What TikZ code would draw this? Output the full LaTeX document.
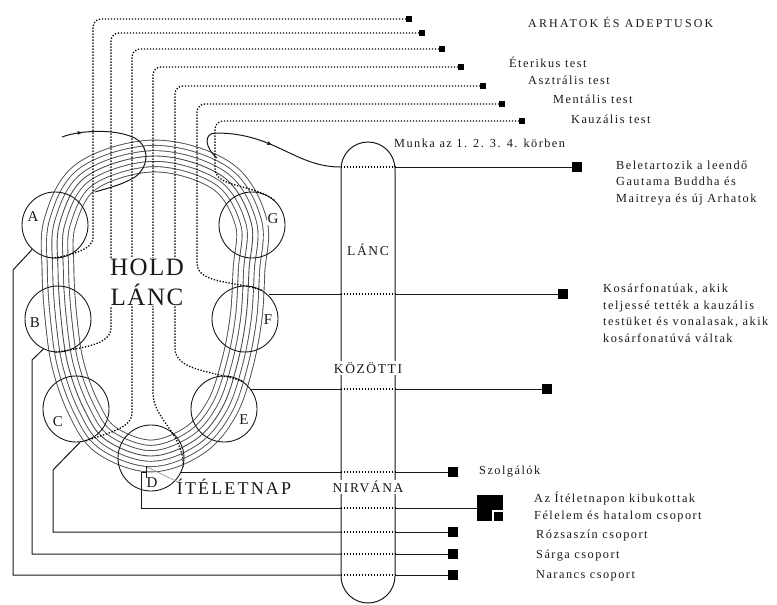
\documentclass[tikz,border=0pt]{standalone}
\usepackage{fontspec}
\setmainfont{Liberation Serif}
\newfontfamily\lsfont[LetterSpace=12]{Liberation Serif}
\newfontfamily\capsfont[LetterSpace=18]{Liberation Serif}
\newfontfamily\bigfont[LetterSpace=6]{Liberation Serif}
\usetikzlibrary{positioning, arrows.meta, calc, decorations.markings}

\tikzset{
  globe/.style={draw=black!90, circle, minimum size=66pt, inner sep=0pt, line width=0.9pt},
  lettr/.style={font=\fontsize{15}{15}\selectfont, fill=white, inner sep=0.5pt, text=black!90},
  lbl/.style={font=\lsfont\fontsize{12.3}{16.5}\selectfont, anchor=west, align=left, inner sep=1pt, text=black!90},
  head/.style={font=\capsfont\fontsize{12}{14}\selectfont, anchor=west, inner sep=1pt, text=black!90},
  pilltxt/.style={font=\lsfont\fontsize{13.5}{15}\selectfont, fill=white, inner sep=1.5pt, text=black!90},
  wire/.style={line width=1pt, black!90},
  dotline/.style={line width=1.3pt, dash pattern=on 1.3pt off 1.7pt, black},
  sqs/.style={fill=black, minimum size=5.5pt, inner sep=0pt},
  sqb/.style={fill=black, minimum size=10pt, inner sep=0pt},
  flow/.style={wire, postaction={decorate}, decoration={markings, mark=at position #1 with {\arrow{Latex[length=5pt,width=4pt]}}}},
  bandloop/.style={insert path={plot[smooth cycle, tension=0.6] coordinates {(155,-156) (222,-176) (251,-222) (249,-270) (246,-318) (237,-365) (222,-408) (195,-440) (151,-456) (106,-440) (84,-409) (68,-365) (61,-318) (58,-270) (60,-222) (87,-176)}}},
}

\begin{document}
\begin{tikzpicture}[x=1pt, y=1pt]
  \useasboundingbox (0,0) rectangle (777,-605);

  % the chain: seven parallel rings
  \foreach \k in {3,2,1} {
    \pgfmathsetmacro\wb{2*\k*5.3+0.9}
    \pgfmathsetmacro\ww{2*\k*5.3-0.9}
    \draw[line width=\wb pt, black!70, bandloop];
    \draw[line width=\ww pt, white, bandloop];
  }
  \draw[line width=0.9pt, black!70, bandloop];

  % globes
  \node[globe] (A) at (55,-225) {};
  \node[globe] (B) at (58,-319) {};
  \node[globe] (C) at (76,-409) {};
  \node[globe] (D) at (151,-458) {};
  \node[globe] (E) at (224,-409) {};
  \node[globe] (F) at (245,-319) {};
  \node[globe] (G) at (252,-225) {};

  % the pill between the chains
  \node[draw=black!90, line width=1pt, rounded corners=27pt, minimum width=54pt,
        minimum height=461pt, inner sep=0pt] (pill) at (368,-372.5) {};

  % dotted body lines
  \foreach \n/\x/\y in {1/409/19, 2/422/33, 3/442/49, 4/461/67, 5/483/86, 6/502/104, 7/522/121}
    \node[sqs] (s\n) at (\x,-\y) {};
  \foreach \n/\cx/\cy/\tgt/\ia in {1/93/230/A.-95/10, 2/111/320/B.-95/10, 3/132/405/C.-75/20,
      4/153/385/D.-15/90, 5/175/340/E.55/160, 6/197/255/F.58/160, 7/215/160/G.45/140}
    \draw[dotline, rounded corners=8pt] (s\n.west) -| (\cx,-\cy) to[out=-90, in=\ia] (\tgt);

  % squares on the right
  \node[sqb] (sqW) at (577,-167) {};
  \node[sqb] (sqF) at (563,-294) {};
  \node[sqb] (sqE) at (547,-389) {};
  \node[sqb] (sqD) at (453,-472) {};
  \node[fill=black, minimum size=26pt, inner sep=0pt] (sqJ) at (490,-508) {};
  \draw[white, line width=2pt] ([xshift=-10pt]sqJ.south east) |- ([yshift=10pt]sqJ.south east);
  \node[sqb] (sqC) at (453,-532) {};
  \node[sqb] (sqB) at (453,-554) {};
  \node[sqb] (sqA) at (453,-575) {};

  % work in the rounds
  \coordinate (mIn) at (62,-137);
  \coordinate (mEnd) at (95,-192);
  \coordinate (oS) at (217,-158);
  \draw[flow=0.13] (mIn) .. controls (80,-130) and (120,-128) .. (138,-140)
    .. controls (150,-150) and (148,-168) .. (135,-177)
    .. controls (122,-185) and (108,-188) .. (mEnd);
  \draw[flow=0.56] (oS) .. controls (205,-148) and (203,-133) .. (216,-133)
    .. controls (275,-133) and (295,-167) .. (pill.west |- sqW);

  % wires to the groups
  \draw[wire] (F.43 |- sqF) -- (pill.west |- sqF);
  \draw[wire] (E.37 |- sqE) -- (pill.west |- sqE);
  \draw[wire] (D.-25 |- sqD) -- (pill.west |- sqD);
  \coordinate (dS) at (141,-472);
  \draw[wire] (dS) |- (pill.west |- sqJ);
  \draw[wire] (dS) -- ++(5,0);
  \draw[wire] (146,-466) -- (146,-480);
  \draw[black!45, line width=0.6pt] (147,-467) -- (180,-483);
  \foreach \c/\a/\vx/\vy/\sq in {A/227/13/270/sqA, B/244/32/360/sqB, C/277/53/470/sqC}
    \draw[wire] (\c.\a) -- (\vx,-\vy) |- (pill.west |- \sq);
  \foreach \sq in {sqW, sqF, sqE, sqD, sqJ, sqC, sqB, sqA} {
    \draw[dotline] (pill.west |- \sq) -- (pill.east |- \sq);
    \draw[wire] (pill.east |- \sq) -- (\sq);
  }

  % letters of the globes
  \node[lettr] (lA) at (33,-217) {A};
  \node[lettr] (lB) at (35,-323) {B};
  \node[lettr] (lC) at (58,-422) {C};
  \node[lettr] (lD) at (152,-483) {D};
  \node[lettr] (lE) at (244,-420) {E};
  \node[lettr] (lF) at (268,-320) {F};
  \node[lettr] (lG) at (273,-219) {G};

  % big titles
  \node[font=\bigfont\fontsize{25}{30}\selectfont, fill=white, inner sep=1pt, align=center,
        text=black!90] (tHold) at (147,-282) {HOLD\\LÁNC};
  \node[font=\lsfont\fontsize{18}{20}\selectfont, inner sep=1pt, text=black!90] (tJudg) at (234,-487) {ÍTÉLETNAP};
  \node[pilltxt] (pL) at (368,-250) {LÁNC};
  \node[pilltxt] (pK) at (368,-368) {KÖZÖTTI};
  \node[pilltxt] (pN) at (368,-487) {NIRVÁNA};

  % labels
  \node[head] (tArh) at (527,-22) {ARHATOK ÉS ADEPTUSOK};
  \node[lbl] (tEt) at (508,-62) {Éterikus test};
  \node[lbl] (tAs) at (527,-80) {Asztrális test};
  \node[lbl] (tMe) at (552,-99) {Mentális test};
  \node[lbl] (tKa) at (570,-119) {Kauzális test};
  \node[lbl] (tMu) at (393,-143) {Munka az 1. 2. 3. 4. körben};
  \node[lbl] (tBe) at (615,-183) {Beletartozik a leendő\\Gautama Buddha és\\Maitreya és új Arhatok};
  \node[lbl] (tKo) at (602,-313) {Kosárfonatúak, akik\\teljessé tették a kauzális\\testüket és vonalasak, akik\\kosárfonatúvá váltak};
  \node[lbl] (tSz) at (478,-472) {Szolgálók};
  \node[lbl] (tKib) at (533,-507) {Az Ítéletnapon kibukottak\\Félelem és hatalom csoport};
  \node[lbl] (tRo) at (535,-536) {Rózsaszín csoport};
  \node[lbl] (tSa) at (535,-556) {Sárga csoport};
  \node[lbl] (tNa) at (535,-576) {Narancs csoport};
\end{tikzpicture}
\end{document}
